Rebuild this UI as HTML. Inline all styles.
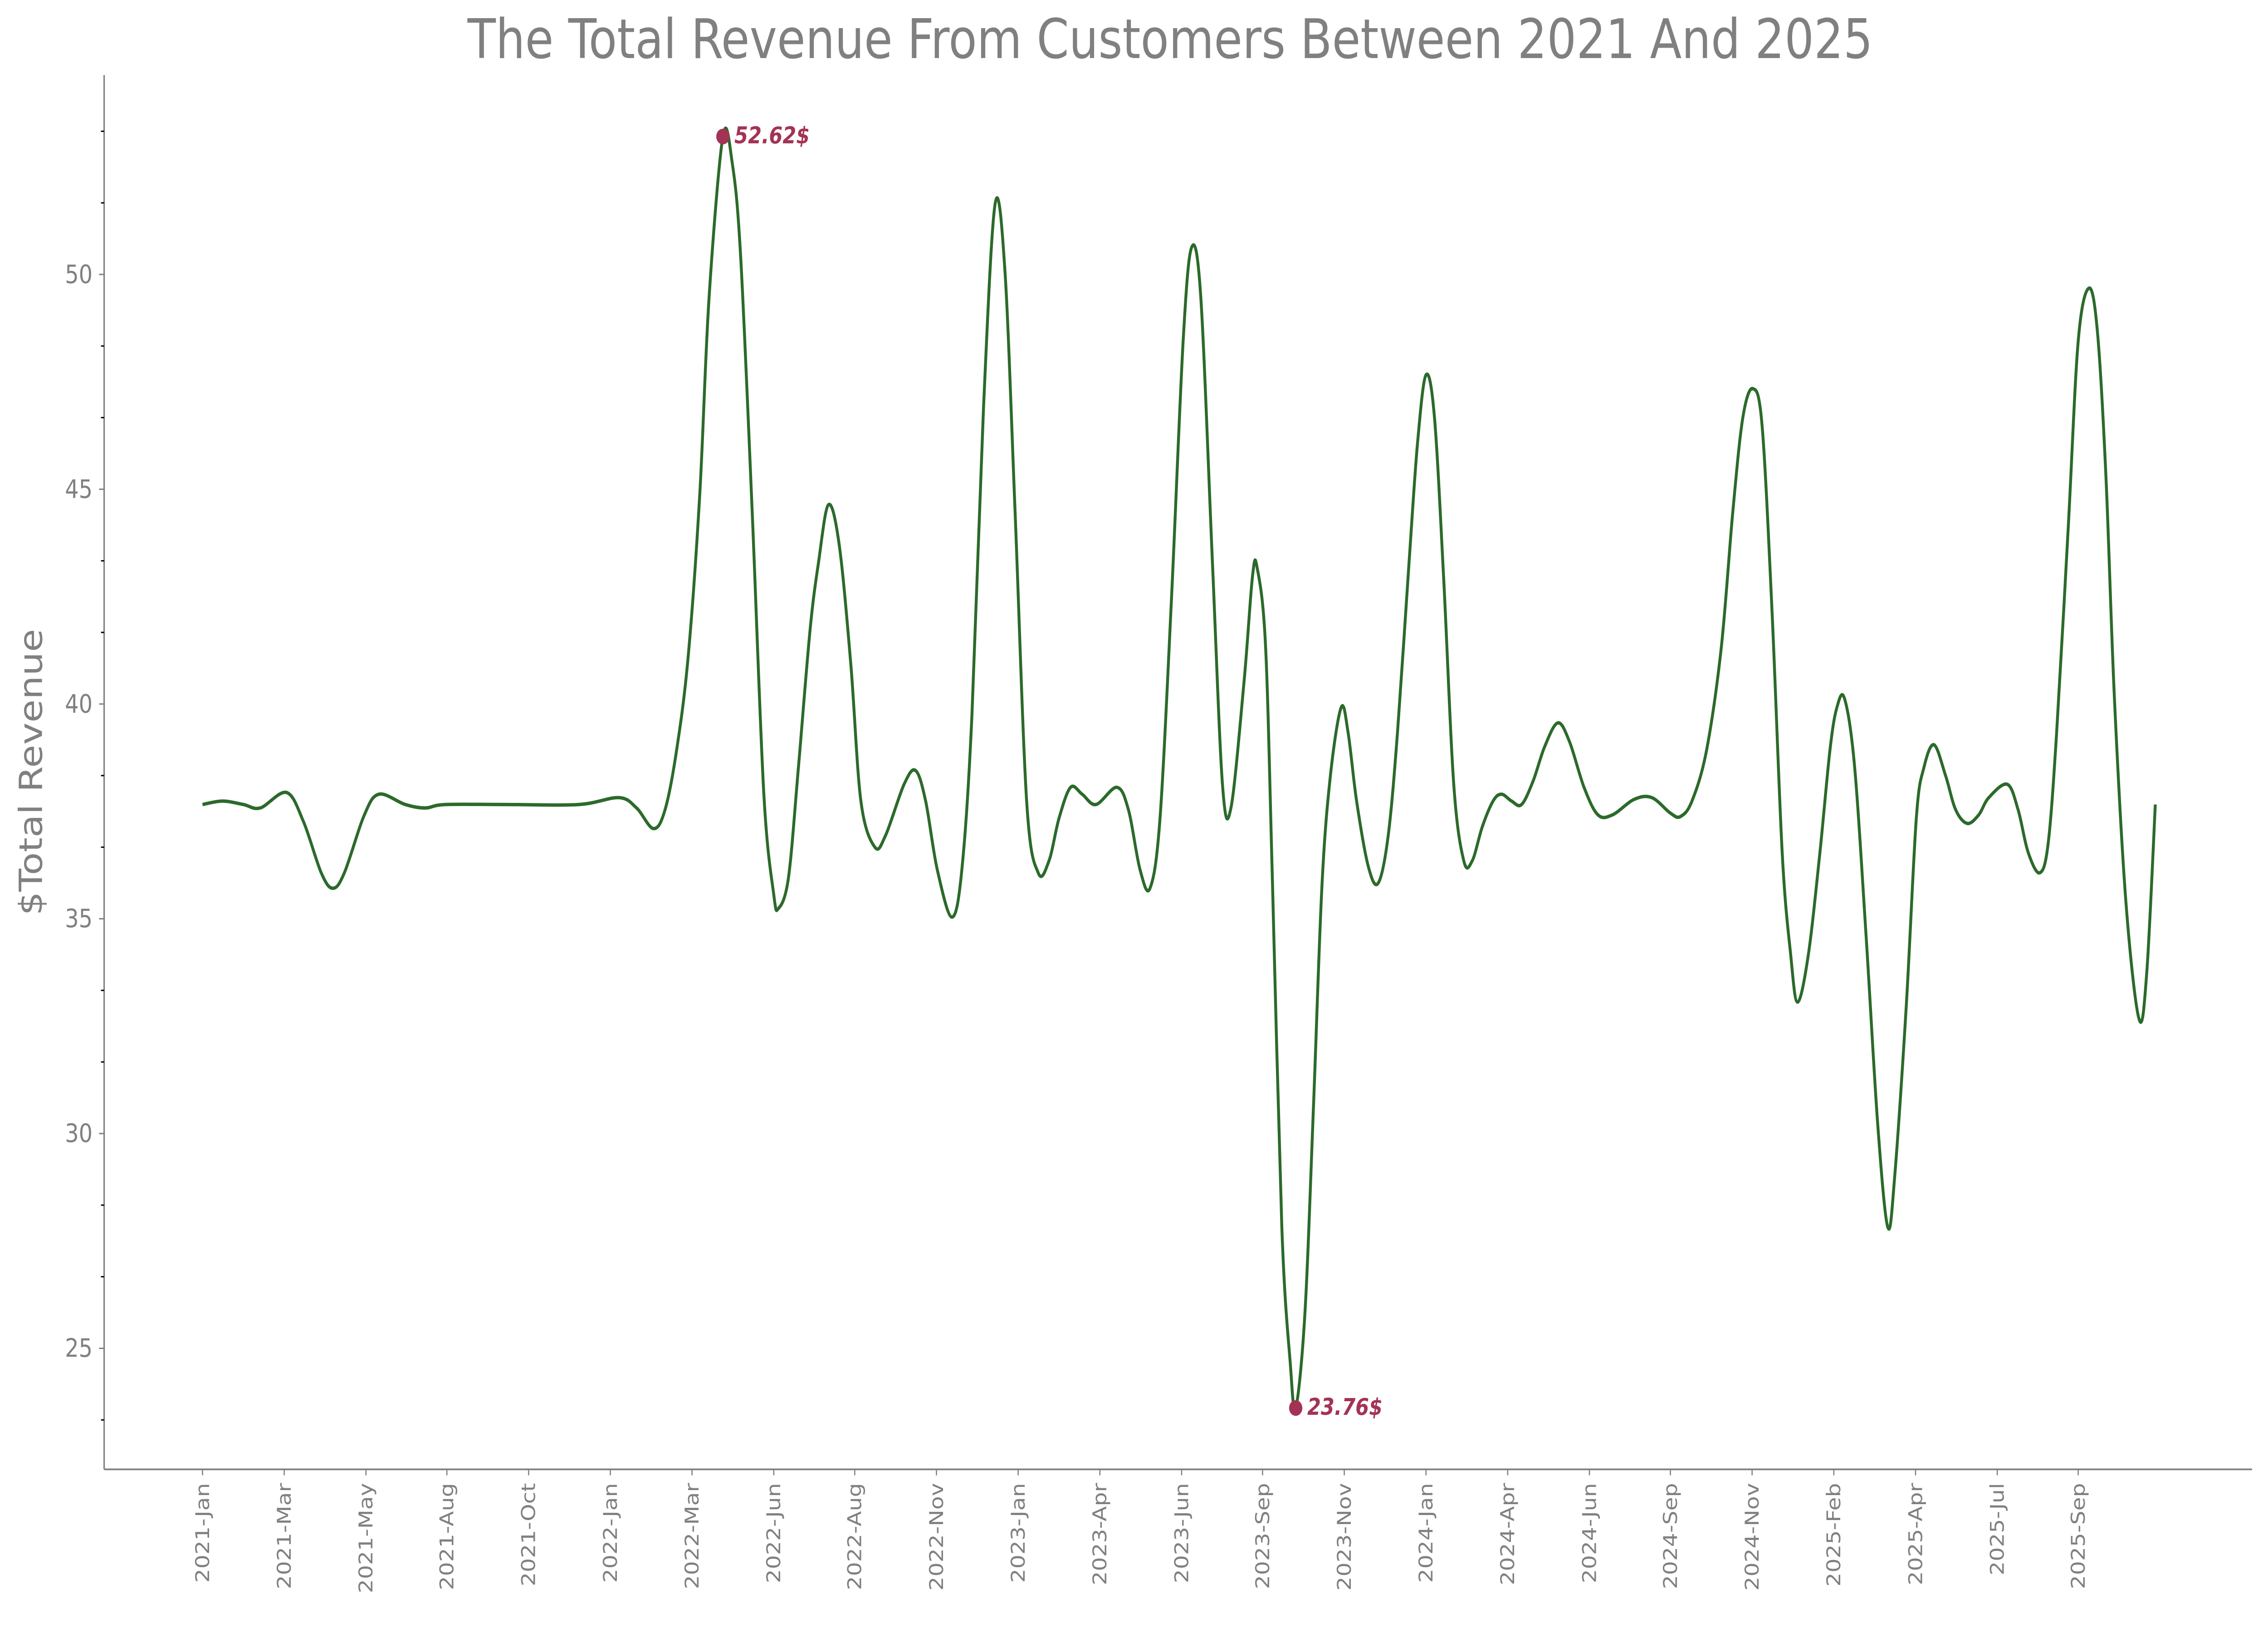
<!DOCTYPE html>
<html><head><meta charset="utf-8"><style>
html,body{margin:0;padding:0;background:#fff;width:100vw;height:100vh;overflow:hidden;}
svg{display:block;position:absolute;left:0;top:0;width:100vw;height:100vh;}
text{font-family:"DejaVu Sans","Liberation Sans",sans-serif;}
</style></head><body>
<svg id="chart" viewBox="0 0 1568 958" preserveAspectRatio="none" xmlns="http://www.w3.org/2000/svg">
<rect width="1568" height="958" fill="#fff"/>
<text x="809" y="34" text-anchor="middle" font-size="32" fill="#808080">The Total Revenue From Customers Between 2021 And 2025</text>
<text transform="translate(29,453) rotate(-90)" text-anchor="middle" font-size="22" fill="#808080">$Total Revenue</text>
<g id="axes"></g>
<g id="plot"></g>
</svg>
<script>
const weeks = [0,2.6,5.3,7.5,10.9,13.1,15.4,16.9,18.4,21.0,22.9,26.3,28.9,31.5,39.4,48.8,54.0,56.3,58.5,60.0,61.5,63.0,64.5,65.7,67.5,68.7,69.8,71.3,72.8,74.1,74.7,76.0,77.3,78.8,79.9,81.2,82.6,84.1,85.4,87.2,88.6,91.0,92.5,93.8,95.3,97.2,98.5,99.8,101.3,102.8,104.1,105.4,106.9,108.4,109.8,111.1,112.6,114.1,115.9,118.6,120.1,121.6,122.9,124.2,125.7,127.2,128.3,129.5,131.0,132.3,133.4,135.1,136.2,136.8,137.9,138.8,140.0,141.1,141.8,143.0,144.1,145.2,146.3,147.7,148.6,149.7,151.2,152.5,153.8,155.0,156.5,157.6,158.7,159.8,161.0,162.3,163.6,164.7,166.0,167.4,168.5,169.8,171.1,172.6,174.1,175.8,177.3,179.2,181.0,182.9,185.7,188.0,190.4,191.7,193.2,195.1,197.0,198.5,199.8,201.1,202.3,203.6,204.9,206.0,206.9,208.3,209.8,211.1,212.0,213.0,214.3,215.8,217.3,218.6,219.5,221.0,222.3,223.3,224.6,226.1,227.4,228.9,230.4,231.7,234.1,235.5,236.8,238.3,239.4,240.5,242.0,243.3,244.7,245.8,246.9,248.0,249.5,251.2,252.2,253.3];
const revenue = [37.66,37.74,37.66,37.58,37.94,37.26,36.07,35.71,36.07,37.42,37.90,37.66,37.58,37.66,37.66,37.66,37.82,37.58,37.10,37.54,38.93,41.11,44.88,49.44,53.21,52.61,50.43,44.48,37.94,35.56,35.24,35.95,38.53,41.71,43.29,44.64,43.69,40.91,37.74,36.67,36.94,38.13,38.45,37.74,36.15,35.04,36.15,39.72,46.87,51.63,50.04,44.48,37.74,36.07,36.35,37.34,38.06,37.90,37.66,38.06,37.54,36.15,35.71,37.34,42.50,48.45,50.63,49.44,43.29,38.13,37.58,40.52,42.98,43.17,41.31,35.75,27.82,24.64,23.61,25.83,30.60,35.75,38.33,39.92,39.33,37.74,36.23,35.83,36.94,39.33,43.29,46.07,47.66,46.67,42.90,38.13,36.35,36.35,37.14,37.74,37.90,37.74,37.66,38.21,39.01,39.56,39.13,38.06,37.42,37.42,37.78,37.82,37.46,37.38,37.74,38.93,41.31,44.48,46.67,47.34,46.47,42.10,36.55,34.17,33.06,34.17,36.55,38.93,39.92,40.12,38.53,34.56,30.20,27.82,29.01,32.98,37.34,38.53,39.05,38.33,37.54,37.22,37.42,37.82,38.13,37.54,36.55,36.07,36.75,39.33,44.09,48.45,49.68,48.65,45.28,40.12,35.36,32.66,33.77,37.66];
const tickLabels = ["2021-Jan","2021-Mar","2021-May","2021-Aug","2021-Oct","2022-Jan","2022-Mar","2022-Jun","2022-Aug","2022-Nov","2023-Jan","2023-Apr","2023-Jun","2023-Sep","2023-Nov","2024-Jan","2024-Apr","2024-Jun","2024-Sep","2024-Nov","2025-Feb","2025-Apr","2025-Jul","2025-Sep"];
const tickWeeks = [0,10.6,21.2,31.7,42.3,52.9,63.5,74.1,84.6,95.2,105.8,116.4,127.0,137.5,148.1,158.7,169.3,179.9,190.4,201.0,211.6,222.2,232.8,243.3];
const yTicks = [25,30,35,40,45,50];
const annotationLabels = ["52.62$","23.76$"];

const NS="http://www.w3.org/2000/svg";
const L=72,R=1557,T=44,B=862;
function xScale(t){return 140+t*5.33;}
function yScale(v){return 161+(50-v)*25.2;}
function mk(tag,attrs,parent){const e=document.createElementNS(NS,tag);for(const k in attrs)e.setAttribute(k,attrs[k]);parent.appendChild(e);return e;}
const axes=document.getElementById('axes'), plot=document.getElementById('plot');
const grey="#808080";
let ls=mk('line',{x1:L,y1:T,x2:L,y2:B,stroke:grey,'stroke-width':1},axes);


let bs=mk('line',{x1:L,y1:B,x2:R,y2:B,stroke:grey,'stroke-width':1},axes);


for(let v=25-5/3; v<54.7; v+=5/3){
  if(Math.abs((v-25)/5-Math.round((v-25)/5))<0.01) continue;
  const y=yScale(v); if(y<T||y>B) continue;
  const m=mk('line',{x1:L-2.2,y1:y,x2:L,y2:y,stroke:"#000",'stroke-width':0.8},axes);
  
  
}
yTicks.forEach(v=>{
  const y=yScale(v);
  const t=mk('line',{x1:L-3.5,y1:y,x2:L,y2:y,stroke:grey,'stroke-width':0.8},axes);
  
  
  const tx=mk('text',{x:L-8,y:y+5,'text-anchor':'end','font-size':15,fill:grey},axes);
  tx.textContent=v;
  
  
});
tickWeeks.forEach((w,i)=>{
  const x=xScale(w);
  const t=mk('line',{x1:x,y1:B,x2:x,y2:B+3.5,stroke:grey,'stroke-width':0.8},axes);
  
  
  const tx=mk('text',{transform:`translate(${x+4.5},${B+8}) rotate(-90)`,'text-anchor':'end','font-size':13,fill:grey},axes);
  tx.textContent=tickLabels[i];
  
  
});
const P=weeks.map((w,i)=>[xScale(w),yScale(revenue[i])]);
let d=`M${P[0][0]},${P[0][1]}`;
for(let i=0;i<P.length-1;i++){
  const p0=P[Math.max(0,i-1)],p1=P[i],p2=P[i+1],p3=P[Math.min(P.length-1,i+2)];
  const c1=[p1[0]+(p2[0]-p0[0])/6,p1[1]+(p2[1]-p0[1])/6];
  const c2=[p2[0]-(p3[0]-p1[0])/6,p2[1]-(p3[1]-p1[1])/6];
  d+=` C${c1[0]},${c1[1]} ${c2[0]},${c2[1]} ${p2[0]},${p2[1]}`;
}
const line=mk('path',{d:d,fill:'none',stroke:'#2b6a2b','stroke-width':2,'stroke-linejoin':'round'},plot);


let iMax=0,iMin=0;
revenue.forEach((v,i)=>{if(v>revenue[iMax])iMax=i;if(v<revenue[iMin])iMin=i;});
[[iMax,annotationLabels[0],'max'],[iMin,annotationLabels[1],'min']].forEach(([i,lab,nm])=>{
  const x=xScale(weeks[i]),y=yScale(revenue[i]);
  const c=mk('circle',{cx:x,cy:y,r:4.6,fill:'#a33355'},plot);
  
  
  const t=mk('text',{x:x+8,y:y+4,'font-size':13.5,'font-weight':'bold','font-style':'italic',fill:'#a33355','font-family':'"DejaVu Sans Mono","Liberation Mono",monospace'},plot);
  t.textContent=lab;
  
  
});
</script>
</body></html>
